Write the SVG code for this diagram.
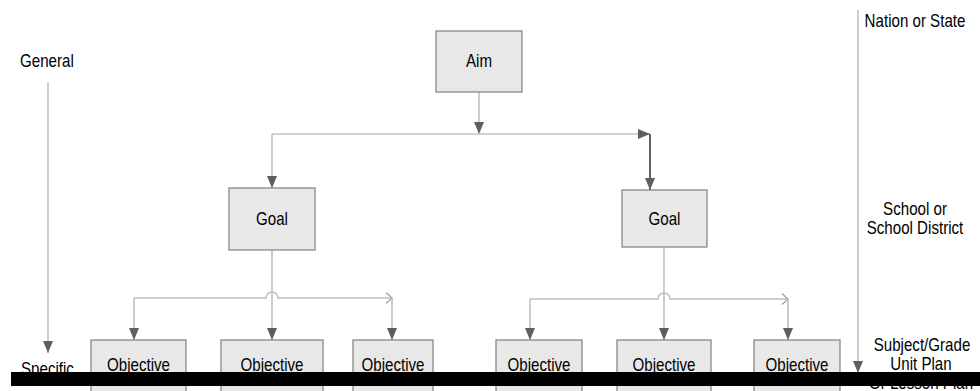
<svg xmlns="http://www.w3.org/2000/svg" width="980" height="391" viewBox="0 0 980 391">
<style>
text{font-family:"Liberation Sans",Arial,sans-serif;font-size:18px;fill:#000}
.c{text-anchor:middle}
.box{fill:#e8e8e8;stroke:#7f7f7f;stroke-width:1.2}
.ln{fill:none;stroke:#c0c0c0;stroke-width:1.6}
.dk{fill:none;stroke:#606060;stroke-width:2}
</style>
<defs>
<marker id="ah" markerUnits="userSpaceOnUse" markerWidth="12" markerHeight="14" refX="12" refY="5" orient="auto" viewBox="0 0 12 10">
<path d="M0 0 L12 5 L0 10 Z" fill="#5f5f5f"/>
</marker>
<marker id="op" markerUnits="userSpaceOnUse" markerWidth="8" markerHeight="14" refX="7" refY="6" orient="auto" viewBox="0 0 8 12">
<path d="M1 0.5 L7 6 L1 11.5" fill="none" stroke="#a0a0a0" stroke-width="1.2"/>
</marker>
</defs>

<g id="connectors">
<path class="ln" d="M48 82 V353" marker-end="url(#ah)"/>
<path class="ln" d="M858 10 V373" marker-end="url(#ah)"/>
<path class="ln" d="M479 92 V134" marker-end="url(#ah)"/>
<path class="ln" d="M272 134 H650" marker-end="url(#ah)"/>
<path class="dk" d="M650 134 V190" marker-end="url(#ah)"/>
<path class="ln" d="M272 134 V188" marker-end="url(#ah)"/>
<path class="ln" d="M272 250 V340" marker-end="url(#ah)"/>
<path class="ln" d="M134 298 H266 A6 6 0 0 1 278 298 H392" marker-end="url(#op)"/>
<path class="ln" d="M134 298 V340" marker-end="url(#ah)"/>
<path class="ln" d="M392 298 V340" marker-end="url(#ah)"/>
<path class="ln" d="M664 247 V340" marker-end="url(#ah)"/>
<path class="ln" d="M530 299 H658 A6 6 0 0 1 670 299 H788" marker-end="url(#op)"/>
<path class="ln" d="M530 299 V340" marker-end="url(#ah)"/>
<path class="ln" d="M788 299 V340" marker-end="url(#ah)"/>
</g>

<g id="aim"><rect class="box" x="436" y="31" width="86" height="61"/><text class="c" transform="translate(479 67) scale(0.84 1)">Aim</text></g>
<g id="goal1"><rect class="box" x="229" y="188" width="86" height="62"/><text class="c" transform="translate(272 225) scale(0.84 1)">Goal</text></g>
<g id="goal2"><rect class="box" x="622" y="190" width="85" height="57"/><text class="c" transform="translate(664.5 225) scale(0.84 1)">Goal</text></g>
<g id="obj1"><rect class="box" x="91" y="340" width="95" height="62"/><text class="c" transform="translate(138.5 371) scale(0.84 1)">Objective</text></g>
<g id="obj2"><rect class="box" x="221" y="340" width="102" height="62"/><text class="c" transform="translate(272 371) scale(0.84 1)">Objective</text></g>
<g id="obj3"><rect class="box" x="353" y="340" width="80" height="62"/><text class="c" transform="translate(393 371) scale(0.84 1)">Objective</text></g>
<g id="obj4"><rect class="box" x="496" y="340" width="86" height="62"/><text class="c" transform="translate(539 371) scale(0.84 1)">Objective</text></g>
<g id="obj5"><rect class="box" x="617" y="340" width="94" height="62"/><text class="c" transform="translate(664 371) scale(0.84 1)">Objective</text></g>
<g id="obj6"><rect class="box" x="754" y="340" width="86" height="62"/><text class="c" transform="translate(797 371) scale(0.84 1)">Objective</text></g>

<g id="labels">
<text transform="translate(20 67) scale(0.84 1)">General</text>
<text transform="translate(21 375) scale(0.84 1)">Specific</text>
<text class="c" transform="translate(915 27) scale(0.84 1)">Nation or State</text>
<text class="c" transform="translate(915 215) scale(0.84 1)">School or</text>
<text class="c" transform="translate(915 234) scale(0.84 1)">School District</text>
<text class="c" transform="translate(922 351) scale(0.84 1)">Subject/Grade</text>
<text class="c" transform="translate(921 370) scale(0.84 1)">Unit Plan</text>
<text class="c" transform="translate(921 389) scale(0.84 1)">Or Lesson Plan</text>
</g>

<rect id="bar" x="11" y="372" width="969" height="14" fill="#000"/>
</svg>
